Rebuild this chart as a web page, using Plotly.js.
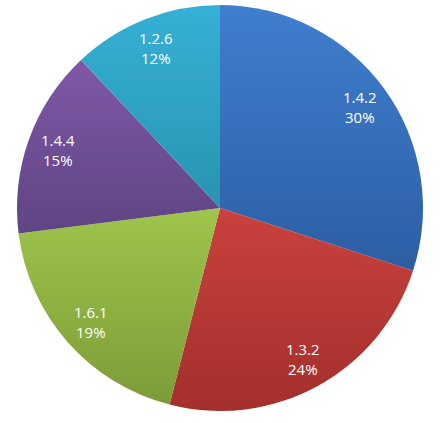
<!DOCTYPE html>
<html><head><meta charset="utf-8">
<script src="https://cdn.plot.ly/plotly-3.0.1.min.js"></script>
<style>html,body{margin:0;padding:0;background:#fff;}#chart{width:441px;height:423px;}</style>
</head><body><div id="chart"></div>
<script>
const categories = ["1.4.2", "1.3.2", "1.6.1", "1.4.4", "1.2.6"];
const values = [30, 24, 19, 15, 12];
const colors = ["#3770bb", "#bb3a36", "#8fb143", "#6c4e94", "#30a3c6"];
const gradTop = ["#3f7fcf", "#c9423e", "#9fc54b", "#8058a8", "#36b0d6"];
const gradBottom = ["#2d5ea3", "#a32f2c", "#7c9c39", "#5e4582", "#2894b0"];

const W = 441, H = 423;
const cx = 220, cy = 208, R = 203, labelR = 0.85 * R;

const trace = {
  type: "pie",
  labels: categories,
  values: values,
  sort: false,
  direction: "clockwise",
  rotation: 0,
  marker: {colors: colors, line: {width: 0}},
  textinfo: "none",
  hoverinfo: "none",
  domain: {x: [(cx - R)/W, (cx + R)/W], y: [(H - cy - R)/H, (H - cy + R)/H]}
};

// label annotations placed at each slice's mid-angle, derived from the values
const total = values.reduce((a, b) => a + b, 0);
const annotations = [];
let cum = 0;
values.forEach(function(v, i){
  const mid = (cum + v / 2) / total * 2 * Math.PI;
  cum += v;
  const px = cx + labelR * Math.sin(mid);
  const py = cy - labelR * Math.cos(mid);
  annotations.push({
    xref: "paper", yref: "paper",
    x: px / W, y: (H - py) / H,
    xanchor: "center", yanchor: "middle",
    showarrow: false,
    text: categories[i] + "<br>" + Math.round(v / total * 100) + "%",
    font: {color: "#ffffff", size: 15, family: "Open Sans"}
  });
});

const layout = {
  width: W, height: H,
  margin: {l: 0, r: 0, t: 0, b: 0},
  showlegend: false,
  paper_bgcolor: "#ffffff",
  annotations: annotations
};
Plotly.newPlot("chart", [trace], layout, {staticPlot: true}).then(function(gd){
  const svg = gd.querySelector("svg.main-svg");
  const ns = "http://www.w3.org/2000/svg";
  let defs = svg.querySelector("defs");
  if (!defs) { defs = document.createElementNS(ns, "defs"); svg.insertBefore(defs, svg.firstChild); }
  const paths = gd.querySelectorAll(".slice path.surface");
  paths.forEach(function(p, i){
    const g = document.createElementNS(ns, "linearGradient");
    g.setAttribute("id", "sg" + i);
    g.setAttribute("x1", "0"); g.setAttribute("y1", "0");
    g.setAttribute("x2", "0"); g.setAttribute("y2", "1");
    const s1 = document.createElementNS(ns, "stop");
    s1.setAttribute("offset", "0"); s1.setAttribute("stop-color", gradTop[i]);
    const s2 = document.createElementNS(ns, "stop");
    s2.setAttribute("offset", "1"); s2.setAttribute("stop-color", gradBottom[i]);
    g.appendChild(s1); g.appendChild(s2); defs.appendChild(g);
    p.style.fill = "url(#sg" + i + ")";
  });
});
</script></body></html>
